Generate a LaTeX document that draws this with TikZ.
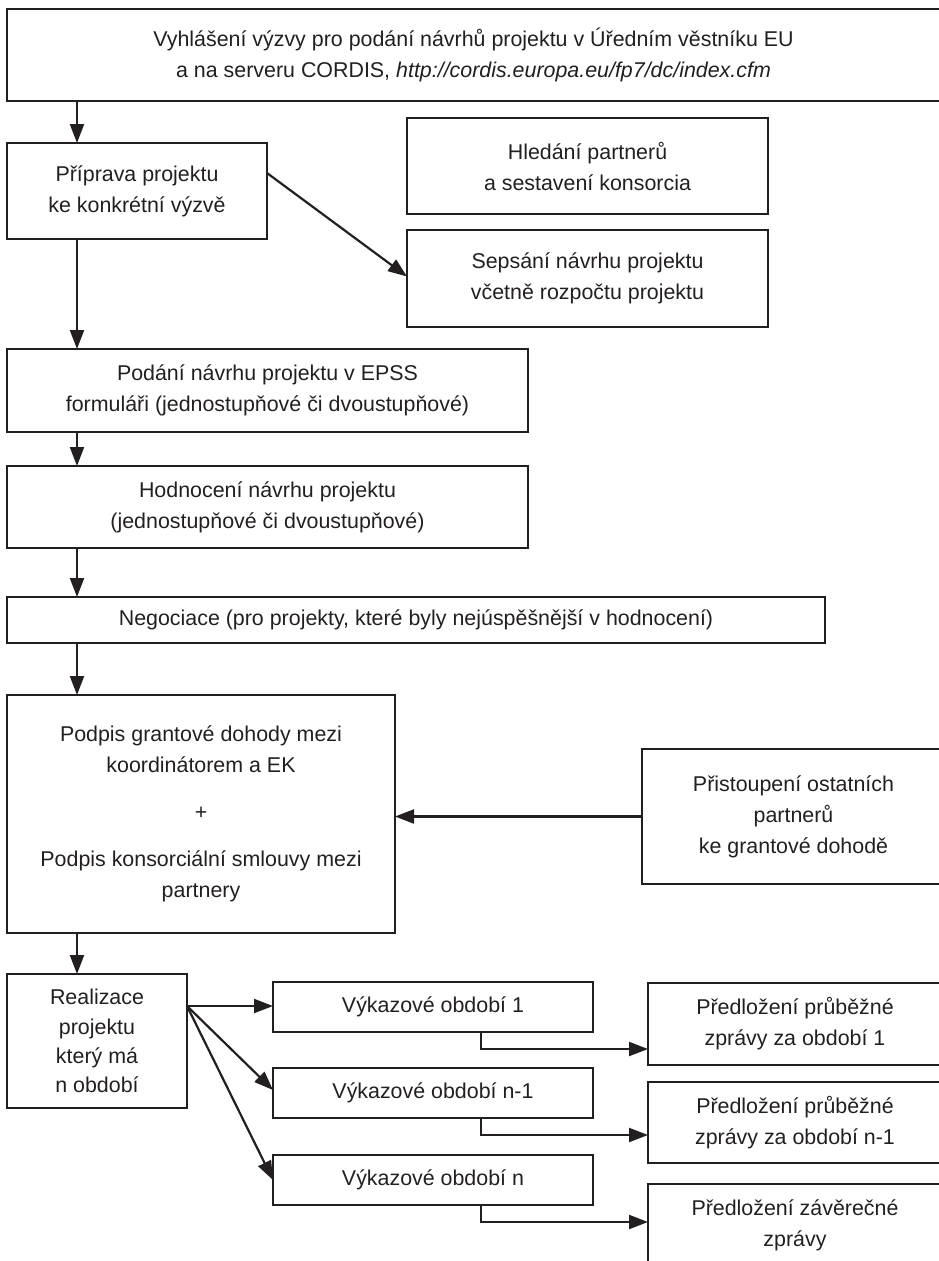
\documentclass[tikz,border=0pt]{standalone}
\usepackage{fontspec}
\setmainfont{Liberation Sans}
\usetikzlibrary{arrows.meta,calc}
\definecolor{ink}{HTML}{231F20}
\begin{document}
\begin{tikzpicture}[x=1pt,y=-1pt,
  font=\fontsize{21.4}{31}\selectfont,
  box/.style={draw=ink,line width=2.4pt,inner sep=0pt,outer sep=0pt,align=center,text=ink},
  conn/.style={draw=ink,line width=2.2pt,-{Triangle[length=19pt 0 0,width=14pt 0 0]}}]
\useasboundingbox (0,0) rectangle (939,1261);
\coordinate (spine) at (77,0);
% main column
\node[box,minimum width=933pt,minimum height=92pt] (top) at (473.5,55)
  {Vyhlášení výzvy pro podání návrhů projektu v Úředním věstníku EU\\a na serveru CORDIS, \textit{http://cordis.europa.eu/fp7/dc/index.cfm}};
\node[box,minimum width=260pt,minimum height=96pt] (prip) at (137,191)
  {Příprava projektu\\ke konkrétní výzvě};
\node[box,minimum width=361pt,minimum height=96pt] (hled) at (587.5,166)
  {Hledání partnerů\\a sestavení konsorcia};
\node[box,minimum width=361pt,minimum height=97pt] (seps) at (587.5,278.5)
  {Sepsání návrhu projektu\\včetně rozpočtu projektu};
\node[box,minimum width=521pt,minimum height=83pt] (podani) at (267.5,390.5)
  {Podání návrhu projektu v EPSS\\formuláři (jednostupňové či dvoustupňové)};
\node[box,minimum width=521pt,minimum height=82pt] (hodn) at (267.5,507)
  {Hodnocení návrhu projektu\\(jednostupňové či dvoustupňové)};
\node[box,minimum width=818pt,minimum height=46pt] (neg) at (416,620)
  {Negociace (pro projekty, které byly nejúspěšnější v hodnocení)};
\node[box,minimum width=388pt,minimum height=238pt] (podpis) at (201,814)
  {Podpis grantové dohody mezi\\koordinátorem a EK\\[16pt]+\\[16pt]Podpis konsorciální smlouvy mezi\\partnery};
\node[box,minimum width=303pt,minimum height=135pt] (prist) at (793.5,816.5)
  {Přistoupení ostatních\\partnerů\\ke grantové dohodě};
\node[box,minimum width=180pt,minimum height=134pt,font=\fontsize{21.4}{29.3}\selectfont] (real) at (97,1041)
  {Realizace\\projektu\\který má\\n období};
% reporting periods
\node[box,minimum width=320pt,minimum height=50pt] (vyk1) at (433,1007) {Výkazové období 1};
\node[box,minimum width=320pt,minimum height=50pt] (vyk2) at (433,1093) {Výkazové období n-1};
\node[box,minimum width=320pt,minimum height=50pt] (vyk3) at (433,1180) {Výkazové období n};
\node[box,minimum width=294pt,minimum height=82pt] (pred1) at (795,1024)
  {Předložení průběžné\\zprávy za období 1};
\node[box,minimum width=294pt,minimum height=81pt] (pred2) at (795,1122.5)
  {Předložení průběžné\\zprávy za období n-1};
\node[box,minimum width=294pt,minimum height=82pt] (pred3) at (795,1225)
  {Předložení závěrečné\\zprávy};
% connectors
\draw[conn] (top.south -| spine) -- (prip.north -| spine);
\draw[conn] ($(prip.east)+(0,-18)$) -- ($(seps.west)+(0,-2)$);
\draw[conn] (prip.south -| spine) -- (podani.north -| spine);
\draw[conn] (podani.south -| spine) -- (hodn.north -| spine);
\draw[conn] (hodn.south -| spine) -- (neg.north -| spine);
\draw[conn] (neg.south -| spine) -- (podpis.north -| spine);
\draw[conn] (prist.west) -- (prist.west -| podpis.east);
\draw[conn] (podpis.south -| spine) -- (real.north -| spine);
\coordinate (rs) at ($(real.north east)+(0,32)$);
\draw[conn] (rs) -- (rs -| vyk1.west);
\draw[conn] (rs) -- ($(vyk2.west)+(0,-3)$);
\draw[conn] (rs) -- (vyk3.west);
\coordinate (e1) at ($(vyk1.south west)+(208,17)$);
\coordinate (e2) at ($(vyk2.south west)+(208,17)$);
\coordinate (e3) at ($(vyk3.south west)+(208,17)$);
\draw[conn] ($(vyk1.south west)+(208,0)$) -- (e1) -- (e1 -| pred1.west);
\draw[conn] ($(vyk2.south west)+(208,0)$) -- (e2) -- (e2 -| pred2.west);
\draw[conn] ($(vyk3.south west)+(208,0)$) -- (e3) -- (e3 -| pred3.west);
\end{tikzpicture}
\end{document}
